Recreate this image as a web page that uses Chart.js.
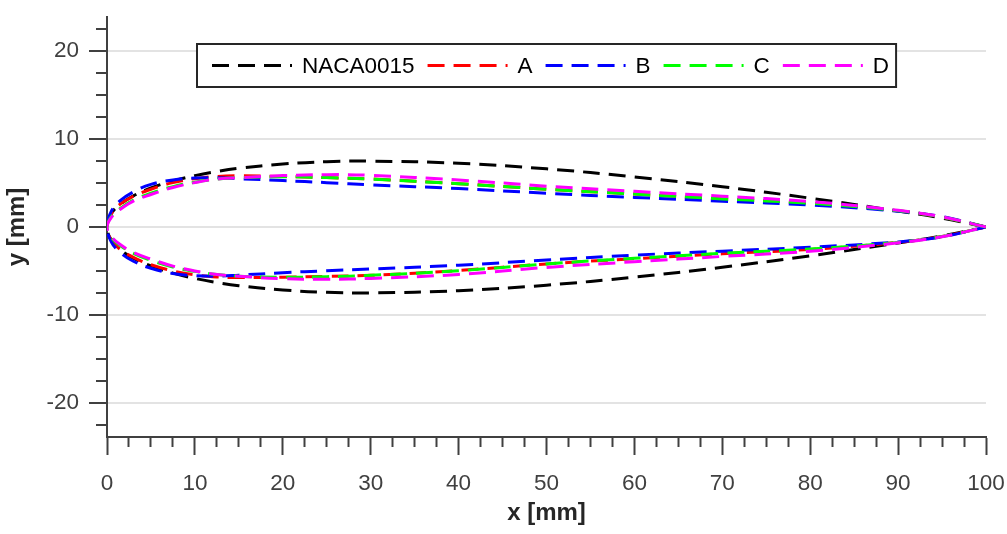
<!DOCTYPE html>
<html><head><meta charset="utf-8">
<script src="https://cdn.jsdelivr.net/npm/chart.js@4.4.1/dist/chart.umd.min.js"></script>
<style>html,body{margin:0;padding:0;background:#fff;}#wrap{width:1007px;height:534px;}</style>
</head><body><div id="wrap"><canvas id="c" width="1007" height="534"></canvas></div>
<script>
// ---- data (mm) ----
const seriesLabels = ['NACA0015', 'A', 'B', 'C', 'D'];
const seriesColors = ['#000000', '#ff0000', '#0000ff', '#00ff00', '#ff00ff'];
const xStations = [0, 0.5, 1.5, 3, 5, 7.5, 10, 12.5, 15, 20, 25, 30, 40, 50, 60, 70, 80, 90, 95, 100];
const nacaUpper = [0, 1.53, 2.58, 3.55, 4.44, 5.25, 5.85, 6.32, 6.68, 7.17, 7.43, 7.50, 7.25, 6.62, 5.70, 4.58, 3.28, 1.81, 1.01, 0];
const nacaLower = [0, -1.53, -2.58, -3.55, -4.44, -5.25, -5.85, -6.32, -6.68, -7.17, -7.43, -7.50, -7.25, -6.62, -5.70, -4.58, -3.28, -1.81, -1.01, 0];
const aUpper = [0, 1.5, 2.6, 3.5, 4.3, 5.05, 5.5, 5.75, 5.82, 5.75, 5.62, 5.47, 4.93, 4.3, 3.75, 3.2, 2.7, 1.85, 1.12, 0];
const aLower = [0, -1.5, -2.55, -3.45, -4.3, -5.0, -5.45, -5.68, -5.75, -5.72, -5.62, -5.5, -4.95, -4.2, -3.6, -3.05, -2.55, -1.75, -1.08, 0];
const bUpper = [0, 1.8, 3.0, 4.0, 4.85, 5.35, 5.57, 5.6, 5.5, 5.28, 5.05, 4.8, 4.37, 3.84, 3.37, 2.94, 2.5, 1.8, 1.18, 0];
const bLower = [0, -1.7, -2.9, -3.9, -4.7, -5.3, -5.55, -5.6, -5.48, -5.2, -4.98, -4.78, -4.35, -3.75, -3.2, -2.75, -2.3, -1.7, -1.12, 0];
const cUpper = [0, 1.2, 2.1, 3.05, 3.85, 4.6, 5.1, 5.45, 5.62, 5.72, 5.62, 5.45, 4.92, 4.3, 3.75, 3.2, 2.7, 1.85, 1.12, 0];
const cLower = [0, -1.2, -2.1, -3.0, -3.8, -4.55, -5.05, -5.4, -5.6, -5.72, -5.65, -5.5, -4.98, -4.2, -3.57, -3.0, -2.5, -1.75, -1.08, 0];
const dUpper = [0, 1.1, 2.0, 2.95, 3.7, 4.5, 5.05, 5.45, 5.6, 5.85, 5.96, 5.88, 5.35, 4.65, 4.06, 3.5, 2.9, 1.9, 1.15, 0];
const dLower = [0, -1.1, -2.0, -2.9, -3.65, -4.45, -5.0, -5.4, -5.6, -5.88, -5.95, -5.85, -5.4, -4.6, -3.95, -3.35, -2.75, -1.8, -1.1, 0];
const xTickLabels = ['0', '10', '20', '30', '40', '50', '60', '70', '80', '90', '100'];
const yTickLabels = ['-20', '-10', '0', '10', '20'];

const uppers = [nacaUpper, aUpper, bUpper, cUpper, dUpper];
const lowers = [nacaLower, aLower, bLower, cLower, dLower];

function profile(up, lo) {
  const pts = [];
  for (let i = xStations.length - 1; i >= 0; i--) pts.push({x: xStations[i], y: up[i]});
  for (let i = 1; i < xStations.length; i++) pts.push({x: xStations[i], y: lo[i]});
  return pts;
}

const FONT = '"Liberation Sans", Arial, Helvetica, sans-serif';
const DASH = [17, 9];

const datasets = seriesLabels.map((lab, i) => ({
  label: lab,
  data: profile(uppers[i], lowers[i]),
  borderColor: seriesColors[i],
  backgroundColor: seriesColors[i],
  borderWidth: 3,
  borderDash: DASH,
  borderCapStyle: 'butt',
  pointRadius: 0,
  pointHoverRadius: 0,
  showLine: true,
  fill: false,
  tension: 0.4,
  order: seriesLabels.length - i
}));

const isMajor = v => Math.abs(v % 10) < 1e-6;

const boxLegend = {
  id: 'boxLegend',
  afterDatasetsDraw(chart) {
    const ctx = chart.ctx, area = chart.chartArea;
    ctx.save();
    ctx.font = '22.5px ' + FONT;
    const lineLen = 80, gapText = 10, gapItem = 13, padL = 15, padR = 7;
    const tws = chart.data.datasets.map(d => ctx.measureText(d.label).width);
    let W = padL + padR + gapItem * (tws.length - 1);
    tws.forEach(t => W += lineLen + gapText + t);
    const left = Math.round((area.left + area.right) / 2 - W / 2);
    const top = 44, H = 43, cy = top + H / 2;
    ctx.fillStyle = '#ffffff';
    ctx.fillRect(left, top, W, H);
    ctx.lineWidth = 2;
    ctx.strokeStyle = '#262626';
    ctx.setLineDash([]);
    ctx.strokeRect(left, top, W, H);
    let x = left + padL;
    chart.data.datasets.forEach((d, i) => {
      ctx.save();
      ctx.beginPath();
      ctx.setLineDash(d.borderDash);
      ctx.lineWidth = d.borderWidth;
      ctx.strokeStyle = d.borderColor;
      ctx.moveTo(x, cy); ctx.lineTo(x + lineLen, cy);
      ctx.stroke();
      ctx.restore();
      ctx.fillStyle = '#000000';
      ctx.textBaseline = 'middle';
      ctx.textAlign = 'left';
      ctx.fillText(d.label, x + lineLen + gapText, cy + 1);
      x += lineLen + gapText + tws[i] + gapItem;
    });
    ctx.restore();
  }
};

new Chart(document.getElementById('c'), {
  type: 'scatter',
  data: {datasets},
  options: {
    responsive: false,
    devicePixelRatio: 1,
    animation: false,
    events: [],
    layout: {padding: {top: 17, right: 21, bottom: 0, left: 0}},
    plugins: {legend: {display: false}, tooltip: {enabled: false}},
    scales: {
      x: {
        type: 'linear', min: 0, max: 100,
        afterFit(s) { s.height = 97; s.paddingLeft = 0; s.paddingRight = 0; },
        border: {display: true, color: '#404040', width: 2},
        grid: {
          drawOnChartArea: false, drawTicks: true, tickLength: 18,
          tickColor: '#404040', tickWidth: 2,
          tickBorderDash: c => (c.tick && isMajor(c.tick.value)) ? [] : [9, 100]
        },
        ticks: {
          stepSize: 2.5, autoSkip: false, maxRotation: 0, padding: 15,
          color: '#404040', font: {family: FONT, size: 22.5},
          callback: v => isMajor(v) ? xTickLabels[Math.round(v / 10)] : ''
        },
        title: {display: true, text: 'x [mm]', color: '#262626',
          font: {family: FONT, size: 24, weight: 'bold'}, padding: {top: 0, bottom: 6}}
      },
      y: {
        type: 'linear', min: -23.9, max: 23.9,
        afterFit(s) { s.width = 107; s.paddingTop = 0; s.paddingBottom = 0; },
        border: {display: true, color: '#404040', width: 2},
        grid: {
          drawOnChartArea: true, drawTicks: true, tickLength: 18, lineWidth: 2,
          color: c => (c.tick && isMajor(c.tick.value)) ? '#e3e3e3' : 'rgba(0,0,0,0)',
          tickColor: '#404040', tickWidth: 2,
          tickBorderDash: c => (c.tick && isMajor(c.tick.value)) ? [] : [0, 7, 10, 100]
        },
        ticks: {
          stepSize: 2.5, includeBounds: false, autoSkip: false, padding: 10,
          color: '#404040', font: {family: FONT, size: 22.5},
          callback: v => isMajor(v) ? yTickLabels[Math.round(v / 10) + 2] : ''
        },
        title: {display: true, text: 'y [mm]', color: '#262626',
          font: {family: FONT, size: 24, weight: 'bold'}, padding: {top: 3, bottom: 0}}
      }
    }
  },
  plugins: [boxLegend]
});
</script>
</body></html>
